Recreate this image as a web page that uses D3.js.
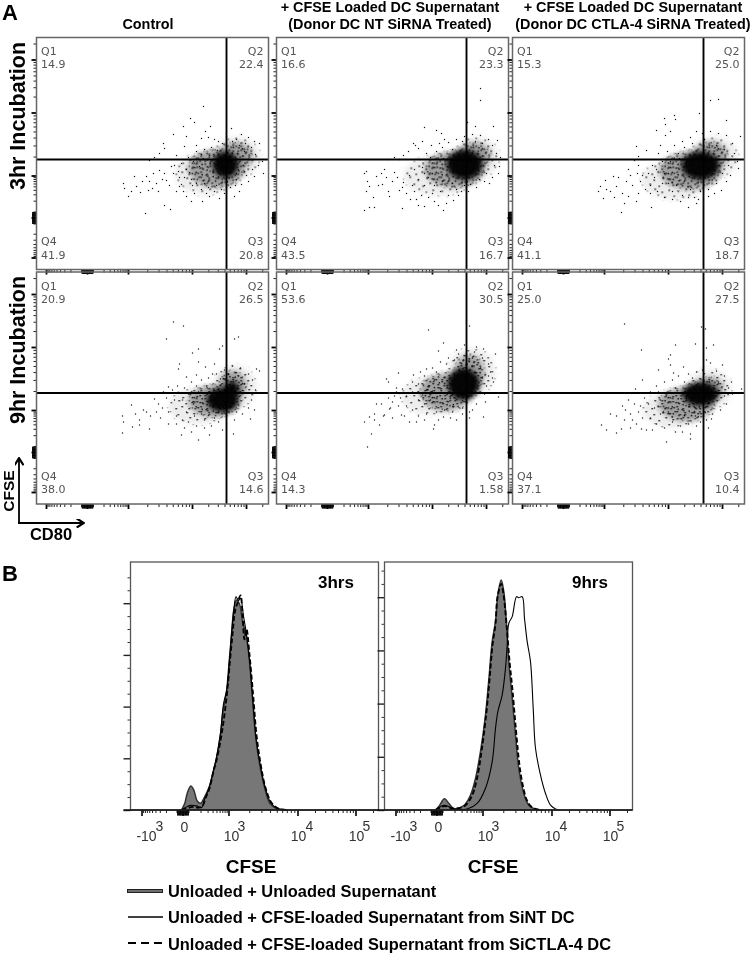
<!DOCTYPE html>
<html>
<head>
<meta charset="utf-8">
<script src="https://cdn.jsdelivr.net/npm/d3@7/dist/d3.min.js"></script>
<style>
html,body{margin:0;padding:0;background:#fff}
svg{display:block;filter:blur(0.35px)}
text{font-family:"Liberation Sans",Arial,sans-serif}
</style>
</head>
<body>
<div id="chart"></div>
<script>
// ---------- Panel A: values (display channels, 0-232 on both axes) ----------
const columnTitles = [["Control"],
  ["+ CFSE Loaded DC Supernatant","(Donor DC NT SiRNA Treated)"],
  ["+ CFSE Loaded DC Supernatant","(Donor DC CTLA-4 SiRNA Treated)"]];
const rowTitles = ["3hr Incubation","9hr Incubation"];
const quadrantNames = ["Q1","Q2","Q3","Q4"];
const quadrants3hr = [["14.9","22.4","20.8","41.9"],["16.6","23.3","16.7","43.5"],["15.3","25.0","18.7","41.1"]];
const quadrants9hr = [["20.9","26.5","14.6","38.0"],["53.6","30.5","1.58","14.3"],["25.0","27.5","10.4","37.1"]];
const gateX = [190,190,191];
const gateY = [110,111];

// scatter tick positions on the display axes
const xDecades = {neg:9.5, zero:50.5, k1:91.5, k10:155.5, k100:209.5};
const yDecades = {neg:12, zero:52, k1:94, k10:157, k100:210};

// estimated density zones of each population: [x, y, rx, ry, level]; level 1 sparse, 2 dense, 3 solid
const core3hrControl = [[170,96,32,21,1],[200,112,24,21,1],[180,101,28,19,2],[199,113,17,14,2],[189,105,13,13,3]];
const core3hrNT      = [[163,94,36,20,1],[200,112,23,21,1],[178,100,30,18,2],[198,113,16,14,2],[188,105,18,15,3]];
const core3hrCTLA    = [[163,90,34,20,1],[201,112,25,21,1],[178,99,31,19,2],[198,113,17,15,2],[188,104,19,14,3]];
const core9hrControl = [[162,98,30,18,1],[198,117,22,22,1],[178,103,26,16,2],[196,118,14,15,2],[186,104,16,12,3],[195,114,8,9,3]];
const core9hrNT      = [[155,108,30,19,1],[195,132,24,24,1],[170,112,26,19,2],[193,131,15,18,2],[187,120,16,16,3]];
const core9hrCTLA    = [[160,94,30,18,1],[197,115,22,20,1],[174,100,28,17,2],[197,115,14,12,2],[188,110,18,12,3]];

// individually visible events
const events3hrControl = [[167,163],[154,151],[158,147],[147,143],[174,143],[137,135],[169,138],[195,141],[165,131],[150,133],[127,126],[128,121],[123,116],[113,109],[118,112],[148,123],[140,114],[87,86],[88,81],[92,73],[95,78],[98,93],[100,83],[110,93],[112,79],[113,88],[120,86],[117,96],[123,99],[122,78],[130,89],[128,64],[134,60],[109,56],[143,83],[137,96],[140,78],[150,73],[166,68],[155,68],[173,73],[183,71],[198,73],[203,78],[218,93],[227,96],[223,126],[205,135],[212,132],[218,128],[200,130],[190,133],[182,128],[175,122],[168,120],[160,118],[152,112],[145,106],[150,100],[142,98],[148,92],[155,90],[160,86],[165,80],[172,82],[178,78],[188,76],[194,82],[205,85],[212,88],[216,100],[222,104],[219,115],[215,122],[209,126],[178,130],[186,126],[157,108],[163,110],[135,103],[128,96],[106,88],[104,77],[145,85],[158,76],[170,76],[180,84],[200,90],[210,94],[214,110],[226,108],[172,132],[160,124],[165,115],[153,97],[138,104],[147,78],[143,92],[133,84],[126,90],[116,81],[208,118],[203,124],[196,128],[181,119],[173,114],[163,103],[156,84],[168,86],[185,80],[199,84],[208,98]];
const events3hrNT = [[204,181],[204,169],[191,147],[148,142],[160,139],[165,136],[217,143],[199,143],[137,126],[139,124],[127,114],[132,118],[142,121],[90,98],[88,96],[91,88],[90,78],[93,83],[100,93],[105,96],[112,78],[113,73],[123,79],[88,59],[93,62],[98,62],[126,61],[142,64],[148,63],[162,64],[167,59],[177,69],[185,78],[213,86],[223,103],[221,129],[118,112],[123,110],[112,110],[106,85],[110,92],[116,88],[121,92],[127,87],[133,94],[136,84],[130,76],[138,78],[145,74],[152,72],[148,84],[142,90],[138,100],[146,102],[154,112],[160,118],[166,122],[172,127],[180,130],[188,133],[196,135],[204,134],[212,130],[216,124],[220,116],[218,104],[222,96],[216,92],[208,88],[200,82],[192,78],[180,80],[172,74],[164,78],[158,84],[152,92],[148,96],[144,110],[150,116],[158,110],[168,130],[176,120],[206,126],[199,128],[186,128],[182,74],[176,86],[166,88],[156,76],[140,70],[134,70],[126,82],[118,97],[108,100],[102,84],[97,72],[203,90],[210,96],[224,112],[155,124],[146,128],[163,126],[194,85],[188,84],[170,66],[158,68]];
const events3hrCTLA = [[206,170],[198,169],[187,156],[162,154],[163,150],[152,151],[153,145],[214,149],[144,139],[158,138],[153,134],[184,138],[228,133],[124,123],[134,119],[126,113],[88,83],[86,78],[91,71],[93,89],[101,93],[104,83],[109,57],[124,68],[139,62],[116,73],[196,73],[209,79],[226,101],[122,109],[126,104],[125,96],[116,100],[106,92],[98,78],[110,76],[114,88],[120,84],[128,88],[133,80],[126,76],[138,76],[145,78],[152,72],[160,70],[168,68],[176,72],[186,70],[150,86],[142,92],[136,96],[144,100],[150,108],[146,116],[155,118],[162,124],[170,128],[178,132],[190,136],[198,138],[206,136],[214,134],[220,126],[222,116],[225,108],[218,94],[214,88],[204,86],[196,80],[188,78],[178,80],[170,74],[160,78],[156,86],[172,122],[180,126],[204,124],[212,120],[216,104],[210,96],[166,116],[158,108],[152,96],[130,94],[138,84],[118,94],[102,72],[94,80],[112,66],[140,104],[148,124],[192,130],[182,72],[202,76],[176,62],[184,66],[164,84]];
const events9hrControl = [[137,182],[147,178],[130,165],[202,167],[198,165],[186,158],[183,155],[156,151],[162,155],[143,140],[162,142],[142,135],[169,137],[178,140],[160,129],[150,127],[220,135],[223,133],[132,117],[127,112],[86,88],[87,82],[86,71],[95,99],[96,77],[103,79],[113,75],[110,92],[118,105],[145,69],[162,64],[155,72],[173,69],[197,70],[214,85],[218,94],[136,114],[141,118],[148,116],[155,122],[165,124],[172,126],[180,130],[188,134],[196,138],[204,136],[212,130],[216,124],[219,114],[215,104],[212,96],[206,90],[198,84],[190,80],[182,82],[175,78],[168,76],[160,78],[152,82],[146,84],[140,88],[132,92],[126,96],[120,92],[114,88],[107,94],[103,84],[99,90],[124,86],[132,80],[140,80],[150,92],[157,100],[162,112],[170,118],[152,110],[146,104],[138,104],[130,106],[122,100],[176,130],[184,125],[208,120],[202,128],[192,130],[168,84],[178,86],[186,74],[200,92],[165,90],[158,88],[148,76],[155,112],[160,118]];
const events9hrNT = [[152,174],[193,178],[167,161],[188,159],[200,157],[162,153],[180,154],[207,155],[219,150],[110,125],[122,131],[112,122],[137,129],[150,135],[88,82],[93,87],[95,70],[91,57],[98,90],[103,79],[107,88],[108,89],[113,95],[114,96],[125,89],[133,82],[157,75],[158,79],[167,87],[193,92],[207,87],[222,107],[217,122],[105,100],[100,100],[112,106],[118,108],[124,106],[120,112],[130,108],[126,115],[120,116],[136,112],[142,120],[148,128],[144,132],[156,136],[164,142],[172,146],[182,150],[190,148],[198,152],[206,146],[212,140],[214,132],[216,126],[210,118],[208,110],[200,100],[196,94],[186,90],[176,92],[168,94],[160,92],[150,90],[142,88],[136,94],[130,98],[122,98],[116,102],[148,100],[154,104],[142,104],[150,114],[158,124],[160,132],[170,140],[178,144],[204,136],[206,126],[186,96],[174,86],[180,84],[162,84],[148,84],[140,82],[128,88],[116,86],[98,84],[136,122],[146,110],[196,146],[212,128],[209,102],[193,86]];
const events9hrCTLA = [[112,180],[189,177],[193,175],[201,159],[183,160],[163,159],[194,156],[129,154],[158,149],[156,145],[158,139],[194,144],[198,141],[210,139],[146,134],[161,131],[171,137],[130,124],[123,115],[89,79],[94,74],[98,90],[104,71],[109,75],[129,75],[134,74],[154,62],[178,65],[178,70],[163,72],[199,85],[229,115],[219,122],[116,104],[122,100],[110,98],[104,88],[112,84],[118,90],[126,92],[132,106],[138,112],[144,118],[152,122],[160,124],[166,128],[176,130],[184,132],[190,134],[204,133],[212,128],[216,116],[220,110],[214,100],[208,94],[200,90],[194,84],[184,78],[176,80],[168,78],[160,82],[152,76],[144,80],[138,86],[130,86],[124,80],[120,84],[142,96],[148,104],[154,108],[148,90],[156,92],[146,112],[136,100],[128,98],[172,122],[180,126],[206,122],[163,116],[212,108],[188,82],[170,72],[183,88],[113,94],[118,76],[140,74],[196,76]];

// stipple textures used to shade the density zones (a drawing style, not events)
const stippleSparse = [[2,3],[9,1],[17,4],[26,2],[5,9],[13,8],[22,10],[29,7],[1,14],[10,15],[18,13],[25,16],[6,20],[15,21],[21,19],[28,21]];
const stippleDense = [[1,1],[6,3],[11,0],[16,4],[22,2],[27,5],[3,7],[9,8],[14,9],[19,7],[25,10],[0,12],[7,13],[12,14],[18,12],[23,15],[28,13],[4,17],[10,19],[15,18],[21,20],[26,18],[2,23],[8,24],[13,25],[19,23],[24,26],[28,22],[5,29],[11,30],[17,28],[22,31],[27,29],[1,34],[8,35],[14,33],[20,35],[25,34]];

// ---------- Panel B: percent of maximum ----------
const histMajorY = [0,20,40,60,80];
const histMinorY = [5,10,15,25,30,35,45,50,55,65,70,75,85,90];
const histXDecades = {neg:11, zero:52, k1:98, k10:167, k100:225};
const histTickBase = ["-10","0","10","10","10"];
const histTickPower = ["3","","3","4","5"];
const histBaseDx = [5,2,3,1,1];
const histPowerDx = [18,0,13,12,11];

const grey3x = [51,54.3,56.7,60.3,63.3,66.7,70,74.3,78.7,82.7,86,90,92.7,96,98.7,101,103.3,106,109.3,112,115.3,118.7,122,125.3,129.3,134.3,139.3,146,156];
const grey3y = [0,2.6,6.4,9.3,7.7,3.5,2.6,5.2,9,14.8,20,29,38.7,45.8,57.4,67.7,77.4,81.2,79.3,72.9,68.3,58.7,43.2,27.7,17.4,8.4,2.6,.6,0];
const solid3x = [51,55,60,66,71,74.3,78.7,82.7,86,90,93,96.5,99,101,103.5,105.5,108,110,113,116,119,122,125.5,129.5,134.5,140,147,157];
const solid3y = [0,1,1.8,1.6,.9,4.4,8.6,14.8,20.5,30,41,47,58,68,78,82.5,81,82,75,68,58,44,28,18,9,3,.6,0];
const dash3x = [51,56,62,68,72,75,79,83,86.5,90.5,94,97,99.5,102,104.5,107,110,112,114,116,119,122.5,126,130,135,141,148,158];
const dash3y = [0,.6,1.2,.9,1.6,4.6,8.4,15,20,28,37,47,58,68,77,80,83,76,66,70,60,45,29,18,8.6,2.8,.5,0];

const grey9x = [51,54.3,60,64.3,69.3,79.3,86,91,96,101,104.3,107.7,111,113.3,116.7,119.3,122,124.3,127.7,131,134.3,139.3,144.3,151,156];
const grey9y = [0,1.3,4.2,2.5,.6,1.7,5.6,11.9,22,35.8,48.9,63.3,70.9,80.9,86.5,82.1,69.6,55.8,42,28.2,15.6,6.2,1.8,.3,0];
const solid9x = [51,60,69.3,82.7,92.7,101,107.7,111,113.3,117.7,121,122.7,124.3,127.7,132,134.3,137.7,140,142.7,146,148.7,151,156,161,166,171,174.3];
const solid9y = [0,1.8,.4,.4,2.5,8.2,18.2,30.7,36.9,43.3,53.3,62,70.2,72.7,80.2,79.8,80.2,72,63.3,55.8,38.2,23.2,13.1,6.2,1.8,.4,0];
const dash9x = [51,60,69,80,87,92,97,102,105,108,111,113,116.7,119,122,125,128,131,134,136,139,142,146,152,158];
const dash9y = [0,1.5,.5,1.5,5,11,22,37,49,62,70,80,85,81,70,56,45,32,20,14,8,4,1.5,.3,0];

const legendLabels = ["Unloaded + Unloaded Supernatant","Unloaded + CFSE-loaded Supernatant from SiNT DC","Unloaded + CFSE-loaded Supernatant from SiCTLA-4 DC"];
const histLabels = ["3hrs","9hrs"];

// ---------- drawing ----------
const W=750,H=954;
const svg=d3.select("#chart").append("svg").attr("width",W).attr("height",H);
const defs=svg.append("defs");
const blurFilter=(id,sd)=>defs.append("filter").attr("id",id).attr("x","-60%").attr("y","-60%").attr("width","220%").attr("height","220%")
  .append("feGaussianBlur").attr("stdDeviation",sd);
blurFilter("soft",2.4); blurFilter("softer",2);
const tile=(id,w,h,pts,turn)=>{
  const pat=defs.append("pattern").attr("id",id).attr("patternUnits","userSpaceOnUse").attr("width",w).attr("height",h);
  if(turn) pat.attr("patternTransform",`rotate(${turn})`);
  pat.selectAll("rect").data(pts).join("rect").attr("x",d=>d[0]).attr("y",d=>d[1]).attr("width",1.4).attr("height",1.4).attr("fill","#000");
};
tile("tileSparse",31,23,stippleSparse,0);
tile("tileDense",29,37,stippleDense,0);
tile("tileDenseTurned",29,37,stippleDense,73);
const arrow=defs.append("marker").attr("id","arrow").attr("viewBox","0 0 10 10").attr("refX",8).attr("refY",5)
  .attr("markerWidth",5).attr("markerHeight",5).attr("orient","auto");
arrow.append("path").attr("d","M1 0L9 5L1 10").attr("fill","none").attr("stroke","#000").attr("stroke-width",2.4);

// intensity -> display channel, through polylinear log scales around a small linear zone at zero
function displayScale(d){
  const up=d3.scaleLog().domain([100,1e3,1e4,1e5]).range([d.zero+6,d.k1,d.k10,d.k100]);
  const dn=d3.scaleLog().domain([-1e3,-100]).range([d.neg,d.zero-6]);
  const mid=d3.scaleLinear().domain([-100,100]).range([d.zero-6,d.zero+6]);
  return v=> v>=100?up(v):v<=-100?dn(v):mid(v);
}
const majorTicks=[-1e3,0,1e3,1e4,1e5];
const zeroTicks=[-90,-80,-70,-60,-50,-40,-30,-20,-10,10,20,30,40,50,60,70,80,90];
const minorTicks=[-900,-800,-700,-600,-500,-400,-300,-200,-100,100,200,300,400,500,600,700,800,900,
  2e3,3e3,4e3,5e3,6e3,7e3,8e3,9e3,2e4,3e4,4e4,5e4,6e4,7e4,8e4,9e4,2e5];

function drawTicks(g,axisGen,scale,mapper,size,width){
  const layer=(vals,s,sw,col)=>{
    const ga=g.append("g").call(axisGen(scale).tickValues(vals.map(mapper)).tickFormat("").tickSize(s));
    ga.selectAll(".domain").remove();
    ga.selectAll("line").attr("stroke",col).attr("stroke-width",sw);
  };
  layer(minorTicks,3,1,"#222");
  layer(zeroTicks,size-.5,1,"#000");
  layer(majorTicks,size,width,"#000");
}

const colX=[36.5,276.5,512.5], rowY=[37.5,272], PW=232, PH=232;
const scatterEvents=[[events3hrControl,events3hrNT,events3hrCTLA],[events9hrControl,events9hrNT,events9hrCTLA]];
const scatterCores=[[core3hrControl,core3hrNT,core3hrCTLA],[core9hrControl,core9hrNT,core9hrCTLA]];
const scatterQuads=[quadrants3hr,quadrants9hr];
const xDisp=displayScale(xDecades), yDisp=displayScale(yDecades);

rowY.forEach((py,r)=>colX.forEach((px,c)=>{
  const g=svg.append("g").attr("transform",`translate(${px},${py})`);
  const x=d3.scaleLinear().domain([0,232]).range([0,PW]);
  const y=d3.scaleLinear().domain([0,232]).range([PH,0]);
  const clipId=`clip${r}${c}`;
  defs.append("clipPath").attr("id",clipId).append("rect").attr("width",PW).attr("height",PH);
  const inner=g.append("g").attr("clip-path",`url(#${clipId})`);
  const ellipses=(sel,data,fill)=>sel.selectAll("ellipse").data(data).join("ellipse")
    .attr("cx",d=>x(d[0])).attr("cy",d=>y(d[1])).attr("rx",d=>x(d[2])).attr("ry",d=>PH-y(d[3])).attr("fill",fill);
  const zones=scatterCores[r][c];
  // soft grey wash under each zone level
  ellipses(inner.append("g").attr("filter","url(#soft)").attr("opacity",.07),zones.filter(d=>d[4]===1),"#000");
  ellipses(inner.append("g").attr("filter","url(#soft)").attr("opacity",.33),zones.filter(d=>d[4]===2),"#000");
  // sparse and dense stipple, shown only inside their zones
  [[1,["tileSparse"]],[2,["tileDense","tileDenseTurned"]]].forEach(([lvl,tiles])=>{
    const mId=`m${r}${c}${lvl}`;
    const mask=defs.append("mask").attr("id",mId).attr("maskUnits","userSpaceOnUse")
      .attr("x",0).attr("y",0).attr("width",PW).attr("height",PH);
    ellipses(mask.append("g").attr("filter","url(#softer)"),zones.filter(d=>d[4]>=lvl),"#fff");
    tiles.forEach(t=>inner.append("rect").attr("width",PW).attr("height",PH).attr("fill",`url(#${t})`).attr("mask",`url(#${mId})`));
  });
  ellipses(inner.append("g").attr("filter","url(#soft)").attr("opacity",.97),zones.filter(d=>d[4]===3),"#000");
  inner.append("g").selectAll("rect").data(scatterEvents[r][c]).join("rect")
    .attr("x",d=>x(d[0])-.6).attr("y",d=>y(d[1])-.6).attr("width",1.2).attr("height",1.2).attr("fill","#111");
  // gates
  g.append("line").attr("x1",x(gateX[c])).attr("x2",x(gateX[c])).attr("y1",0).attr("y2",PH).attr("stroke","#000").attr("stroke-width",1.9);
  g.append("line").attr("x1",0).attr("x2",PW).attr("y1",y(gateY[r])).attr("y2",y(gateY[r])).attr("stroke","#000").attr("stroke-width",1.9);
  // ticks
  drawTicks(g.append("g"),d3.axisLeft,y,yDisp,5,1.8);
  drawTicks(g.append("g").attr("transform",`translate(0,${PH})`),d3.axisBottom,x,xDisp,5,1.8);
  g.append("rect").attr("width",PW).attr("height",PH).attr("fill","none").attr("stroke","#666").attr("stroke-width",1.5);
  // quadrant labels
  const q=scatterQuads[r][c];
  const lab=(t,tx,ty,anchor)=>g.append("text").text(t).attr("x",tx).attr("y",ty).attr("text-anchor",anchor)
    .style("font-family","'DejaVu Sans',sans-serif").attr("font-size",11).attr("fill","#555");
  lab(quadrantNames[0],4.5,17.5,"start"); lab(q[0],4.5,30.5,"start");
  lab(quadrantNames[1],PW-5,17.5,"end"); lab(q[1],PW-5,30.5,"end");
  lab(quadrantNames[3],4.5,PH-24.5,"start"); lab(q[3],4.5,PH-11,"start");
  lab(quadrantNames[2],PW-5,PH-24.5,"end"); lab(q[2],PW-5,PH-11,"end");
}));

// titles
const bold=(t,x,y,size,anchor="start")=>svg.append("text").text(t).attr("x",x).attr("y",y)
  .attr("text-anchor",anchor).attr("font-weight","bold").attr("font-size",size).attr("fill","#000");
bold("A",2,20,22); bold("B",2,581,22);
const titleCx=[148,390,633];
columnTitles.forEach((lines,i)=>{
  const ys=lines.length===1?[29]:[12,29];
  lines.forEach((t,j)=>bold(t,titleCx[i],ys[j],14.4,"middle"));
});
[116,350].forEach((cy,i)=>bold(rowTitles[i],0,0,21.5,"middle").attr("transform",`translate(25,${cy}) rotate(-90)`));
bold("CFSE",0,0,15.5,"middle").attr("transform",`translate(13.5,491) rotate(-90)`);
bold("CD80",51,540,16.5,"middle");
svg.append("path").attr("d","M19 523L19 459").attr("fill","none").attr("stroke","#000").attr("stroke-width",1.8).attr("marker-end","url(#arrow)");
svg.append("path").attr("d","M18 523L83 523").attr("fill","none").attr("stroke","#000").attr("stroke-width",1.8).attr("marker-end","url(#arrow)");

// histograms
const HW=248, histTop=562, histBottom=810;
const histPanels=[
 {x0:130.5,perUnit:2.585,grey:[grey3x,grey3y],solid:[solid3x,solid3y],dash:[dash3x,dash3y],label:histLabels[0],lx:318},
 {x0:384.5,perUnit:2.66,grey:[grey9x,grey9y],solid:[solid9x,solid9y],dash:[dash9x,dash9y],label:histLabels[1],lx:572}];
const histDisp=displayScale(histXDecades);
histPanels.forEach(p=>{
  const g=svg.append("g").attr("transform",`translate(${p.x0},${histTop})`);
  const h=histBottom-histTop;
  const x=d3.scaleLinear().domain([0,248]).range([0,HW]);
  const y=d3.scaleLinear().domain([0,h/p.perUnit]).range([h,0]);
  const zip=a=>a[0].map((v,i)=>[v,a[1][i]]);
  const curve=d3.curveCatmullRom.alpha(.5);
  const line=d3.line().x(d=>x(d[0])).y(d=>y(d[1])).curve(curve);
  const area=d3.area().x(d=>x(d[0])).y0(y(0)).y1(d=>y(d[1])).curve(curve);
  g.append("path").datum(zip(p.grey)).attr("d",area).attr("fill","#777");
  g.append("path").datum(zip(p.grey)).attr("d",line).attr("fill","none").attr("stroke","#333").attr("stroke-width",1.5);
  g.append("path").datum(zip(p.solid)).attr("d",line).attr("fill","none").attr("stroke","#000").attr("stroke-width",1.1);
  g.append("path").datum(zip(p.dash)).attr("d",line).attr("fill","none").attr("stroke","#000").attr("stroke-width",1.9).attr("stroke-dasharray","5,2.5");
  const ya=d3.axisLeft(y).tickValues(histMajorY).tickFormat("").tickSize(7);
  const yg=g.append("g").call(ya); yg.select(".domain").remove(); yg.selectAll("line").attr("stroke","#222").attr("stroke-width",1.4);
  const ym=d3.axisLeft(y).tickValues(histMinorY).tickFormat("").tickSize(3);
  const ymg=g.append("g").call(ym); ymg.select(".domain").remove(); ymg.selectAll("line").attr("stroke","#333").attr("stroke-width",1);
  const xg=g.append("g").attr("transform",`translate(0,${h})`);
  drawTicks(xg,d3.axisBottom,x,histDisp,6,1.6);
  g.append("rect").attr("width",HW).attr("height",h).attr("fill","none").attr("stroke","#555").attr("stroke-width",1.3);
  g.append("line").attr("x1",-7).attr("x2",HW).attr("y1",h).attr("y2",h).attr("stroke","#111").attr("stroke-width",1.5);
  bold(p.label,p.lx,588,17);
  majorTicks.forEach((v,i)=>{
    const tx=x(histDisp(v));
    const zero=histTickBase[i]==="0";
    g.append("text").attr("x",tx+histBaseDx[i]).attr("y",h+(zero?22:31)).attr("text-anchor","middle")
      .attr("font-size",14).attr("fill","#333").text(histTickBase[i]);
    if(histTickPower[i]) g.append("text").attr("x",tx+histPowerDx[i]).attr("y",h+21).attr("text-anchor","middle")
      .attr("font-size",14).attr("fill","#333").text(histTickPower[i]);
  });
});
bold("CFSE",251,873,19,"middle");
bold("CFSE",493,873,19,"middle");

// legend
const legendTextY=[897,923,950], legendLineY=[891,917,943];
legendLabels.forEach((t,i)=>bold(t,168,legendTextY[i],16.4));
svg.append("line").attr("x1",127).attr("x2",163).attr("y1",legendLineY[0]).attr("y2",legendLineY[0]).attr("stroke","#222").attr("stroke-width",4);
svg.append("line").attr("x1",128).attr("x2",162).attr("y1",legendLineY[0]).attr("y2",legendLineY[0]).attr("stroke","#888").attr("stroke-width",1.6);
svg.append("line").attr("x1",128).attr("x2",163).attr("y1",legendLineY[1]).attr("y2",legendLineY[1]).attr("stroke","#000").attr("stroke-width",1.6);
svg.append("line").attr("x1",128).attr("x2",163).attr("y1",legendLineY[2]).attr("y2",legendLineY[2]).attr("stroke","#000").attr("stroke-width",1.8).attr("stroke-dasharray","8,5");
</script>
</body>
</html>
